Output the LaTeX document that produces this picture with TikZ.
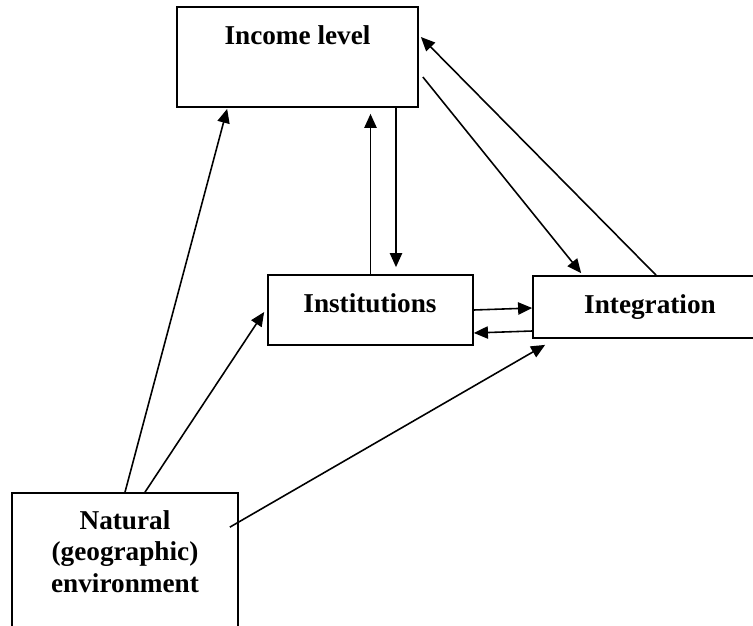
\documentclass[tikz,border=0pt]{standalone}
\usepackage{fontspec}
\setmainfont{Liberation Serif}
\usepackage{tikz}
\usetikzlibrary{arrows.meta,calc}
\def\BoxLine{1pt}

\begin{document}
\begin{tikzpicture}[x=0.02cm,y=-0.02cm,
	box/.style={draw,line width=\BoxLine,inner sep=0pt},
	lbl/.style={anchor=base,inner sep=0pt,font=\fontsize{15.5}{17.9}\selectfont\bfseries,align=center},
	link/.style={line width=0.9pt,-{Triangle[length=8pt,width=7pt]}}]
	\useasboundingbox (0,0) rectangle (753,625);
	\clip (0,0) rectangle (753,625);
	% boxes
	\node[box,minimum width=4.82cm,minimum height=2cm] (income) at (297.5,57) {};
	\node[box,minimum width=4.1cm,minimum height=1.4cm] (inst) at (370.5,310) {};
	\node[box,minimum width=4.68cm,minimum height=1.24cm] (integ) at (650,307) {};
	\node[box,minimum width=4.52cm,minimum height=2.94cm] (natural) at (125,566.5) {};
	% texts
	\node[lbl] (incometext) at (297.5,45) {Income level};
	\node[lbl] (insttext) at (370,312) {Institutions};
	\node[lbl] (integtext) at (650,313) {Integration};
	\node[lbl] (naturaltext) at (125,592) {Natural\\(geographic)\\environment};
	% arrows
	\coordinate (downtop) at ($(income.south)+(98.5,0)$);
	\draw[link] (natural.north) -- ($(income.south west)+(51,1)$);
	\draw[link] ($(natural.north)+(20,0)$) -- ($(inst.west)+(-3,2)$);
	\draw[link] ($(natural.north east)+(-9,35)$) -- ($(integ.south west)+(13,6)$);
	\draw[link] (inst.north) -- ($(inst.north |- income.south)+(0,6)$);
	\draw[link] (downtop) -- ($(downtop |- inst.north)+(0,-7)$);
	\draw[link] ($(income.east)+(4,20)$) -- ($(integ.north west)+(49,-2)$);
	\draw[link] ($(integ.north)+(6,0)$) -- ($(income.east)+(2,-20)$);
	\draw[link] (inst.east) -- ($(integ.west)+(0,1)$);
	\draw[link] ($(integ.west)+(0,24)$) -- ($(inst.east)+(0,23)$);
\end{tikzpicture}
\end{document}
